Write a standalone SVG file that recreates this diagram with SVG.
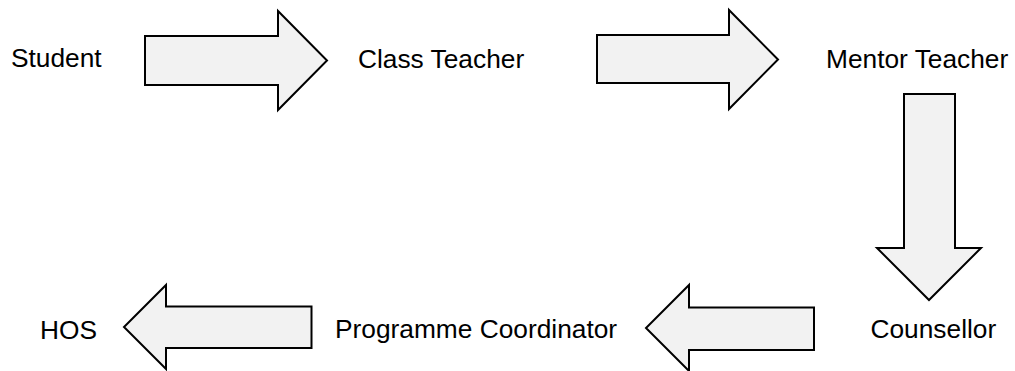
<svg xmlns="http://www.w3.org/2000/svg" width="1015" height="371" viewBox="0 0 1015 371">
<style>
.arrow{fill:#f2f2f2;stroke:#000;stroke-width:2;stroke-linejoin:miter}
.lbl{font-family:"Liberation Sans",Arial,sans-serif;font-size:26.3px;fill:#000}
</style>
<rect width="1015" height="371" fill="#fff"/>
<g id="connectors">
<polygon class="arrow" points="145,36 278,36 278,11 327,60.5 278,110 278,85 145,85"/>
<polygon class="arrow" points="597,35 729,35 729,10 778,59.5 729,109 729,83 597,83"/>
<polygon class="arrow" points="904,94 955,94 955,248 981,248 929,300 877,248 904,248"/>
<polygon class="arrow" points="814,307.5 689,307.5 689,285 646,328 689,371 689,350 814,350"/>
<polygon class="arrow" points="311.5,306.5 166,306.5 166,285 124,327 166,369 166,348 311.5,348"/>
</g>
<g id="student"><text class="lbl" x="11" y="67">Student</text></g>
<g id="class-teacher"><text class="lbl" x="358" y="68">Class Teacher</text></g>
<g id="mentor-teacher"><text class="lbl" x="826" y="68">Mentor Teacher</text></g>
<g id="counsellor"><text class="lbl" x="870.5" y="338">Counsellor</text></g>
<g id="programme-coordinator"><text class="lbl" x="335" y="338">Programme Coordinator</text></g>
<g id="hos"><text class="lbl" x="40" y="339">HOS</text></g>
</svg>
